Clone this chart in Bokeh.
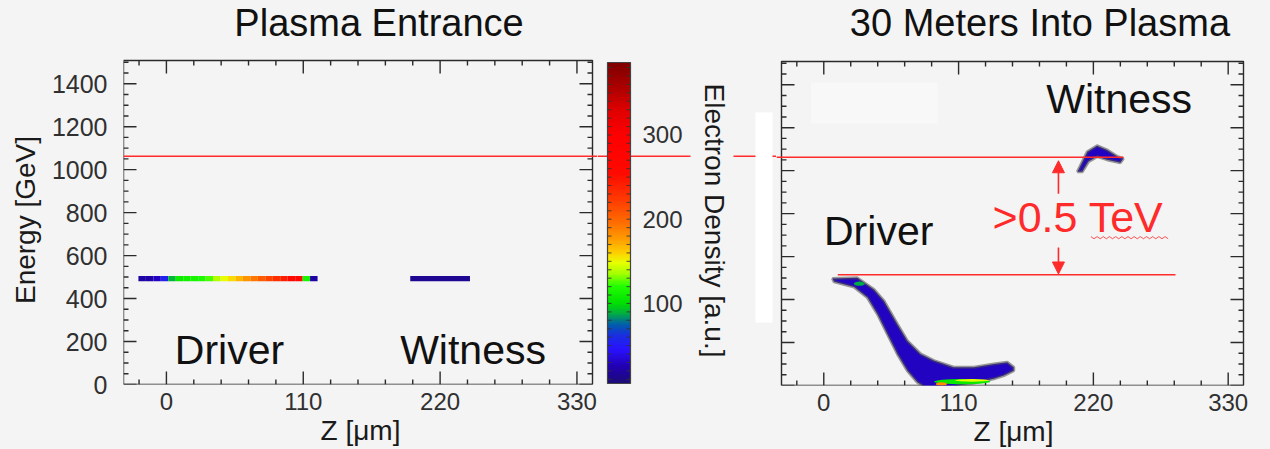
import numpy as np
from bokeh.plotting import figure
from bokeh.layouts import row, column
from bokeh.models import (ColumnDataSource, LinearColorMapper, ColorBar, FixedTicker,
                          Range1d, Arrow, NormalHead, BoxAnnotation, LinearAxis)
from bokeh.core.properties import value
from bokeh.embed import file_html
from bokeh.resources import INLINE

FONT = "Liberation Sans"
BG = "#f4f4f4"
RED = "#ff2a2a"
INK = "#2a2a2a"

# ---- axes ---------------------------------------------------------------
Z_RANGE = (-34.5, 342.5)          # um
E_RANGE = (0, 1508)               # GeV
Z_TICKS = [0, 110, 220, 330]
Z_MINOR = [-22, 22, 44, 66, 88, 132, 154, 176, 198, 242, 264, 286, 308]
E_TICKS = [0, 200, 400, 600, 800, 1000, 1200, 1400]
E_MINOR = [50, 100, 150, 250, 300, 350, 450, 500, 550, 650, 700, 750, 850, 900, 950,
           1050, 1100, 1150, 1250, 1300, 1350, 1450, 1500]
DENSITY_RANGE = (5, 386)          # a.u.
DENSITY_TICKS = [100, 200, 300]
DENSITY_MINOR = [10, 20, 30, 40, 50, 60, 70, 80, 90, 110, 120, 130, 140, 150, 160, 170,
                 180, 190, 210, 220, 230, 240, 250, 260, 270, 280, 290, 310, 320, 330,
                 340, 350, 360, 370, 380]

# ---- colour table (density -> colour anchors) -----------------------------
CT_LEVELS = [5, 25, 45, 62, 75, 88, 100, 120, 135, 148, 160, 175, 195, 225, 255, 300, 330, 355, 386]
CT_COLORS = ["#1c0c78", "#2200b4", "#2a12ff", "#1a30e0", "#0060a8", "#00b040", "#00e000",
             "#22ff00", "#a4ff00", "#e8ff00", "#ffd000", "#ffa000", "#ff7000", "#ff3800",
             "#ff0a00", "#ff0000", "#e00000", "#b00000", "#800000"]

# ---- plasma entrance: drive bunch in 6 um slices, witness bunch ----------
drive_z = [-19.5, -13.5, -7.5, -1.5, 4.5, 10.5, 16.5, 22.5, 28.5, 34.5, 40.5, 46.5,
           52.5, 58.5, 64.5, 70.5, 76.5, 82.5, 88.5, 94.5, 100.5, 106.5, 112.5, 118.5]
drive_density = [20, 22, 30, 55, 90, 108, 112, 115, 118, 125, 138, 148,
                 158, 168, 180, 192, 205, 218, 230, 242, 255, 265, 115, 20]
drive_energy = 493
witness_z = [220]
witness_density = [15]
witness_energy = 493

# ---- after 30 m: bunch outlines in (z, E) --------------------------------
drive_out_z = [7.1, 27.4, 41, 49.2, 60, 68.2, 79, 89.9, 106, 122.5, 138.8, 149.7, 155, 155,
               147, 138.8, 122.5, 109, 100, 85, 80.4, 76.3, 68.2, 60, 51.9, 43.8, 35.6, 24.7, 8.4]
drive_out_e = [498, 501, 447, 393, 286, 208, 147, 116, 85, 85, 100, 108, 85, 69,
               46, 31, 11, 0, -40, -40, 0, 15, 69, 147, 239, 332, 409, 458, 483]
drive_bulk_density = 30
witness_out_z = [207, 215, 223, 231, 240, 244.5, 242, 231, 223, 216, 211]
witness_out_e = [995, 1088, 1116, 1097, 1065, 1056, 1037, 1051, 1065, 1042, 995]
witness_bulk_density = 30
# denser regions inside the drive bunch
hot_z = [29, 113, 121, 96]
hot_e = [474, 18, 24, 7]
hot_dz = [9, 46, 28, 9]
hot_de = [20, 24, 12, 16]
hot_density = [88, 105, 148, 185]

# ---- reference energies --------------------------------------------------
line_witness_e = 1062
line_drive_e = 515
gain_label = ">0.5 TeV"

# ---- geometry -----------------------------------------------------------
PANEL_H = 324                                  # px spanned by E_RANGE
UM_PER_PX_A = (Z_RANGE[1] - Z_RANGE[0]) / 469  # left panel scale
UM_PER_PX_C = (Z_RANGE[1] - Z_RANGE[0]) / 462  # right panel scale
GEV_PER_PX = (E_RANGE[1] - E_RANGE[0]) / PANEL_H
A_LEFT, A_TOP, A_BOTTOM = 123, 60, 384         # left panel box on the page
SPLIT_AB, SPLIT_BC = 597, 776                  # canvas boundaries
HEIGHT = 449
CBAR_LEFT, CBAR_W, CBAR_TOP, CBAR_BOTTOM = 607, 23, 62, 383


def z_at(px):      # left-panel z for a page column
    return Z_RANGE[0] + (px - A_LEFT) * UM_PER_PX_A


def e_at(py):      # left-panel energy for a page row
    return (A_BOTTOM - py) * GEV_PER_PX


def palette_from(levels, colors, n=256):
    rgb = np.array([[int(c[i:i + 2], 16) for i in (1, 3, 5)] for c in colors], float)
    v = np.linspace(levels[0], levels[-1], n)
    chans = [np.interp(v, levels, rgb[:, k]) for k in range(3)]
    return ["#%02x%02x%02x" % (int(r), int(g), int(b)) for r, g, b in zip(*chans)]


PALETTE = palette_from(CT_LEVELS, CT_COLORS)
mapper = LinearColorMapper(palette=PALETTE, low=DENSITY_RANGE[0], high=DENSITY_RANGE[1])


def color_of(d):
    i = int((d - DENSITY_RANGE[0]) / (DENSITY_RANGE[1] - DENSITY_RANGE[0]) * (len(PALETTE) - 1))
    return PALETTE[max(0, min(len(PALETTE) - 1, i))]


def add_axis(p, side, ticks, label_text, font_size, standoff, label_size, label_standoff):
    ax = LinearAxis(ticker=FixedTicker(ticks=ticks, minor_ticks=[]))
    ax.major_tick_in = 0
    ax.major_tick_out = 0
    ax.minor_tick_in = 0
    ax.minor_tick_out = 0
    ax.axis_line_color = None
    ax.major_label_text_font = FONT
    ax.major_label_text_color = "#303030"
    ax.major_label_text_font_size = font_size
    ax.major_label_standoff = standoff
    ax.axis_label = label_text
    ax.axis_label_text_font = FONT
    ax.axis_label_text_font_size = label_size
    ax.axis_label_text_font_style = "normal"
    ax.axis_label_text_color = "#1a1a1a"
    ax.axis_label_standoff = label_standoff
    p.add_layout(ax, side)
    return ax


def draw_panel_box(p, um_per_px):
    """Panel outline with inward ticks on all four sides."""
    z0, z1 = Z_RANGE
    e0, e1 = E_RANGE
    p.quad(left=[z0], right=[z1], bottom=[e0], top=[e1], fill_color=None,
           line_color=INK, line_width=1.4)
    xs, ys = [], []
    for ticks, length in ((Z_TICKS, 13), (Z_MINOR, 5)):
        for t in ticks:
            xs += [[t, t], [t, t]]
            ys += [[e0, e0 + length * GEV_PER_PX], [e1, e1 - length * GEV_PER_PX]]
    for ticks, length in ((E_TICKS, 13), (E_MINOR, 5)):
        for t in ticks:
            xs += [[z0, z0 + length * um_per_px], [z1, z1 - length * um_per_px]]
            ys += [[t, t], [t, t]]
    p.multi_line(xs=xs, ys=ys, line_color=INK, line_width=1.4)


def canvas(x_range, y_range, frame_w, frame_h, left=0, right=0, bottom=0):
    return figure(frame_width=frame_w, frame_height=frame_h,
                  x_range=Range1d(*x_range), y_range=Range1d(*y_range),
                  x_axis_type=None, y_axis_type=None,
                  output_backend="svg", toolbar_location=None,
                  min_border_left=left, min_border_right=right,
                  min_border_top=0, min_border_bottom=bottom,
                  background_fill_color=BG, border_fill_color=BG,
                  outline_line_color=None)


def label(p, x, y, text, size, color="#111111", angle=0.0):
    p.text(x=[x], y=[y], text=[text], angle=[angle], text_font=value(FONT),
           text_font_size=size, text_color=color, text_align="center",
           text_baseline="alphabetic")


def red_line(p, z0, z1, e, width=1.5):
    p.line([z0, z1], [e, e], line_color=RED, line_width=width)


# ================= Plasma entrance ========================================
title_h = 55
head_a = canvas((Z_RANGE[0], z_at(SPLIT_AB)), (e_at(title_h), e_at(0)),
                SPLIT_AB - A_LEFT, title_h, left=A_LEFT)
label(head_a, 170.9, 1681.6, "Plasma Entrance", "38px")

left = canvas((Z_RANGE[0], z_at(SPLIT_AB)), (0, e_at(title_h)),
              SPLIT_AB - A_LEFT, A_BOTTOM - title_h, left=A_LEFT, bottom=HEIGHT - A_BOTTOM)
add_axis(left, "below", Z_TICKS, "Z [\u03bcm]", "24px", 8, "28px", 2)
add_axis(left, "left", E_TICKS, "Energy [GeV]", "25px", 16, "28px", 8)
draw_panel_box(left, UM_PER_PX_A)

bar_half = 12
drive_src = ColumnDataSource(dict(
    l=[z - 3 for z in drive_z], r=[z + 3 for z in drive_z],
    b=[drive_energy - bar_half] * len(drive_z), t=[drive_energy + bar_half] * len(drive_z),
    d=drive_density))
left.quad(left="l", right="r", bottom="b", top="t", source=drive_src,
          fill_color={"field": "d", "transform": mapper}, line_color=None)
wit_src = ColumnDataSource(dict(
    l=[z - 24 for z in witness_z], r=[z + 24 for z in witness_z],
    b=[witness_energy - bar_half], t=[witness_energy + bar_half], d=witness_density))
left.quad(left="l", right="r", bottom="b", top="t", source=wit_src,
          fill_color={"field": "d", "transform": mapper}, line_color=None)

label(left, 50.7, 160, "Driver", "41px")
label(left, 246.5, 160, "Witness", "41px")
red_line(left, Z_RANGE[0], z_at(SPLIT_AB), line_witness_e)

# ================= colour scale strip =====================================
mid = canvas((z_at(SPLIT_AB), z_at(SPLIT_BC)), (e_at(HEIGHT), e_at(0)),
             SPLIT_BC - SPLIT_AB, HEIGHT)
# witness-energy marker, broken around the colour-scale title
red_line(mid, z_at(SPLIT_AB), z_at(690), line_witness_e)
red_line(mid, z_at(733), z_at(SPLIT_BC), line_witness_e)
mid.quad(left=[z_at(755)], right=[z_at(772)], bottom=[e_at(322)], top=[e_at(112)],
         fill_color="white", line_color=None)
label(mid, 440.5, 763.3, "Electron Density [a.u.]", "28px", "#1a1a1a", -np.pi / 2)

cbar = ColorBar(color_mapper=mapper, width=CBAR_W, height=CBAR_BOTTOM - CBAR_TOP,
                padding=0, margin=0, location=(CBAR_LEFT - SPLIT_AB, HEIGHT - CBAR_BOTTOM),
                ticker=FixedTicker(ticks=DENSITY_TICKS, minor_ticks=[]),
                major_label_text_font=FONT, major_label_text_font_size="24px",
                major_label_text_color="#303030", label_standoff=12,
                major_tick_in=0, major_tick_out=0, minor_tick_in=0, minor_tick_out=0,
                bar_line_color="#444444", bar_line_width=1.2,
                background_fill_color=None, border_line_color=None)
mid.add_layout(cbar)

# short ticks along both edges of the colour scale, every 10 a.u.
px_per_density = (CBAR_BOTTOM - CBAR_TOP) / (DENSITY_RANGE[1] - DENSITY_RANGE[0])
cb_xs, cb_ys = [], []
for d in sorted(DENSITY_TICKS + DENSITY_MINOR):
    e = e_at(CBAR_BOTTOM - (d - DENSITY_RANGE[0]) * px_per_density)
    cb_xs += [[z_at(CBAR_LEFT), z_at(CBAR_LEFT + 4)],
              [z_at(CBAR_LEFT + CBAR_W - 4), z_at(CBAR_LEFT + CBAR_W)]]
    cb_ys += [[e, e], [e, e]]
mid.multi_line(xs=cb_xs, ys=cb_ys, line_color="#333333", line_width=1.1, line_alpha=0.8,
               level="overlay")

# ================= 30 m into the plasma ===================================
c_frame = 474
c_start = Z_RANGE[0] - 5 * UM_PER_PX_C
right = canvas((c_start, c_start + c_frame * UM_PER_PX_C), (0, 385 * GEV_PER_PX),
               c_frame, 385, right=1270 - SPLIT_BC - c_frame, bottom=64)
add_axis(right, "below", Z_TICKS, "Z [\u03bcm]", "24px", 8, "28px", 2)
draw_panel_box(right, UM_PER_PX_C)

right.add_layout(BoxAnnotation(left=-10.6, right=93, bottom=1219, top=1410,
                               fill_color="white", fill_alpha=0.35, line_color=None))

right.patch(drive_out_z, drive_out_e, fill_color=color_of(drive_bulk_density),
            line_color="#4a4a4a", line_alpha=0.55, line_width=3)
right.patch(witness_out_z, witness_out_e, fill_color=color_of(witness_bulk_density),
            line_color="#4a4a4a", line_alpha=0.55, line_width=3)
hot_src = ColumnDataSource(dict(z=hot_z, e=hot_e, w=hot_dz, h=hot_de, d=hot_density))
right.ellipse(x="z", y="e", width="w", height="h", source=hot_src,
              fill_color={"field": "d", "transform": mapper}, line_color=None)

label(right, 176.4, 1686.3, "30 Meters Into Plasma", "38px")
label(right, 44.8, 717, "Driver", "41px")
label(right, 241, 1335, "Witness", "41px")
label(right, 207.5, 786, gain_label, "43px", RED)

# wavy underline below "TeV"
sq_z = np.linspace(218, 281, 26)
sq_e = 688 + 5 * np.where(np.arange(26) % 2 == 0, 1, -1)
right.line(sq_z, sq_e, line_color=RED, line_width=1, line_alpha=0.8)

red_line(right, c_start, 244.5, line_witness_e)
red_line(right, 11.4, 287, line_drive_e)
head = dict(size=12, fill_color=RED, line_color=RED, line_width=1)
right.add_layout(Arrow(end=NormalHead(**head), x_start=191.5, y_start=893, x_end=191.5,
                       y_end=line_witness_e - 16, line_color=RED, line_width=1.6))
right.add_layout(Arrow(end=NormalHead(**head), x_start=191.5, y_start=642, x_end=191.5,
                       y_end=line_drive_e + 4, line_color=RED, line_width=1.6))

layout = row(column(head_a, left, spacing=0), mid, right, spacing=0,
             styles={"background-color": BG})
open("out.html", "w").write(file_html(layout, INLINE))
